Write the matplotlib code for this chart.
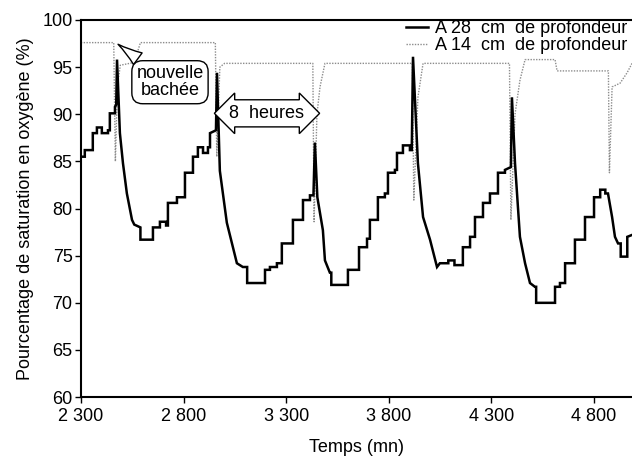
import matplotlib
matplotlib.use("Agg")
import matplotlib.pyplot as plt
from matplotlib import font_manager
from matplotlib.ticker import FixedLocator

names = {f.name for f in font_manager.fontManager.ttflist}
if 'Liberation Sans Narrow' in names:
    plt.rcParams['font.family'] = ['Liberation Sans Narrow', 'DejaVu Sans']
    fs = 14.5
else:
    plt.rcParams['font.family'] = ['Liberation Sans', 'DejaVu Sans']
    fs = 13

# 28 cm depth (black trace, plateaus given as repeated times)
t28 = [2300, 2319, 2319, 2358, 2358, 2378, 2378, 2402, 2402, 2432, 2432, 2441,
       2441, 2466, 2466, 2472, 2476, 2490, 2505, 2524, 2549, 2560, 2590, 2590,
       2651, 2651, 2685, 2685, 2715, 2715, 2724, 2724, 2768, 2768, 2807, 2807,
       2846, 2846, 2870, 2870, 2895, 2895, 2919, 2919, 2929, 2929, 2958, 2963,
       2977, 3011, 3036, 3060, 3089, 3110, 3110, 3197, 3197, 3221, 3221, 3255,
       3255, 3279, 3279, 3333, 3333, 3382, 3382, 3416, 3416, 3433, 3440, 3452,
       3479, 3489, 3513, 3520, 3520, 3601, 3601, 3655, 3655, 3694, 3694, 3708,
       3708, 3747, 3747, 3781, 3781, 3796, 3796, 3830, 3830, 3840, 3840, 3869,
       3869, 3903, 3903, 3912, 3918, 3942, 3967, 4001, 4035, 4049, 4090, 4090,
       4120, 4120, 4161, 4161, 4196, 4196, 4220, 4220, 4259, 4259, 4293, 4293,
       4332, 4332, 4366, 4366, 4395, 4400, 4415, 4439, 4464, 4488, 4512, 4518,
       4518, 4610, 4610, 4634, 4634, 4659, 4659, 4707, 4707, 4756, 4756, 4800,
       4800, 4830, 4830, 4855, 4855, 4868, 4888, 4902, 4917, 4930, 4930, 4962,
       4962, 4985]
o28 = [85.5, 85.5, 86.2, 86.2, 88.0, 88.0, 88.6, 88.6, 88.0, 88.0, 88.3, 88.3,
       90.1, 90.1, 90.8, 91.0, 95.8, 88.0, 84.8, 81.6, 78.8, 78.3, 78.0, 76.7,
       76.7, 78.0, 78.0, 78.6, 78.6, 78.2, 78.2, 80.6, 80.6, 81.2, 81.2, 83.8,
       83.8, 85.5, 85.5, 86.5, 86.5, 85.9, 85.9, 86.5, 86.5, 88.0, 88.3, 94.4,
       84.0, 78.5, 76.3, 74.2, 73.8, 73.8, 72.1, 72.1, 73.5, 73.5, 73.8, 73.8,
       74.2, 74.2, 76.3, 76.3, 78.8, 78.8, 80.9, 80.9, 81.4, 81.4, 87.0, 81.2,
       77.7, 74.5, 73.2, 73.2, 71.9, 71.9, 73.5, 73.5, 75.9, 75.9, 76.8, 76.8,
       78.8, 78.8, 81.2, 81.2, 81.6, 81.6, 83.8, 83.8, 84.1, 84.1, 85.9, 85.9,
       86.7, 86.7, 86.2, 86.2, 96.1, 84.8, 79.1, 76.7, 73.8, 74.2, 74.2, 74.5,
       74.5, 74.0, 74.0, 75.9, 75.9, 77.0, 77.0, 79.1, 79.1, 80.6, 80.6, 81.6,
       81.6, 83.8, 83.8, 84.1, 84.4, 91.8, 84.8, 77.0, 74.2, 72.1, 71.7, 71.7,
       70.0, 70.0, 71.7, 71.7, 72.1, 72.1, 74.2, 74.2, 76.7, 76.7, 79.1, 79.1,
       81.2, 81.2, 82.0, 82.0, 81.6, 81.6, 79.1, 77.0, 76.3, 76.3, 74.9, 74.9,
       77.0, 77.2]

# 14 cm depth (grey dotted)
t14 = [2300, 2460, 2468, 2478, 2492, 2560, 2590, 2955, 2962, 2977, 3000, 3430,
       3436, 3450, 3465, 3489, 3915, 3922, 3942, 3967, 4388, 4395, 4415, 4439,
       4464, 4610, 4620, 4870, 4875, 4888, 4927, 4961, 4985]
o14 = [97.6, 97.6, 85.0, 93.0, 95.2, 95.5, 97.6, 97.6, 85.5, 95.0, 95.4, 95.4,
       78.6, 90.0, 92.9, 95.4, 95.4, 80.9, 91.8, 95.4, 95.4, 78.8, 90.0, 93.6,
       95.8, 95.8, 94.6, 94.6, 83.8, 92.9, 93.3, 94.4, 95.4]

xticks = [2300, 2800, 3300, 3800, 4300, 4800]
xlabels = ['2 300', '2 800', '3 300', '3 800', '4 300', '4 800']
yticks = [60, 65, 70, 75, 80, 85, 90, 95, 100]

fig = plt.figure(figsize=(6.32, 4.65), dpi=100)
ax = fig.add_axes([0.128, 0.146, 0.872, 0.811])

ax.plot(t14, o14, color='#8c8c8c', lw=1.0, ls=(0, (1, 1)),
        label='A 14  cm  de profondeur', zorder=2)
ax.plot(t28, o28, color='black', lw=1.8, solid_joinstyle='miter',
        label='A 28  cm  de profondeur', zorder=3)

ax.set_xlim(2300, 4985)
ax.set_ylim(60, 100)
ax.xaxis.set_major_locator(FixedLocator(xticks))
ax.set_xticklabels(xlabels)
ax.set_yticks(yticks)
ax.tick_params(labelsize=fs, length=4, width=1, direction='out')
ax.tick_params(axis='x', pad=4)
ax.tick_params(axis='y', pad=2)

for s in ['left', 'bottom', 'top']:
    ax.spines[s].set_linewidth(1.5)
ax.spines['right'].set_visible(False)

ax.set_xlabel('Temps (mn)', fontsize=fs, labelpad=10)
ax.set_ylabel('Pourcentage de saturation en oxygène (%)', fontsize=fs, labelpad=6)

h, l = ax.get_legend_handles_labels()
ax.legend(h[::-1], l[::-1], loc='upper right', bbox_to_anchor=(0.992, 1.0),
          frameon=False, fontsize=fs, handlelength=1.2, handletextpad=0.4,
          labelspacing=0.0, borderaxespad=0.0, borderpad=0.0)

ax.annotate('nouvelle\nbachée', xy=(2470, 97.6), xytext=(2734, 93.4),
            fontsize=fs, ha='center', va='center', linespacing=1.0,
            bbox=dict(boxstyle='round,pad=0.25,rounding_size=0.6', fc='white', ec='black', lw=1),
            arrowprops=dict(arrowstyle='wedge,tail_width=0.8,shrink_factor=0.4',
                            fc='white', ec='black', lw=1))

ax.text(3206, 90.1, '8  heures', fontsize=fs, ha='center', va='center',
        bbox=dict(boxstyle='darrow,pad=0.28', fc='white', ec='black', lw=1))

fig.savefig('out.png', dpi=100)
